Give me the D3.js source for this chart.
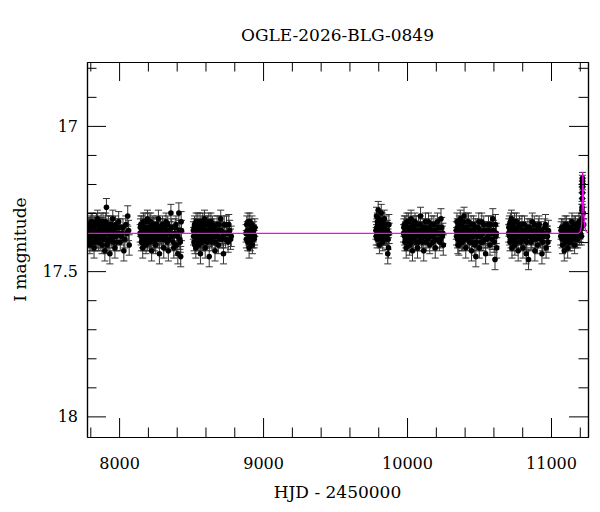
<!DOCTYPE html>
<html>
<head>
<meta charset="utf-8">
<script src="https://cdn.jsdelivr.net/npm/d3@7"></script>
<style>
  body { margin: 0; background: #fff; }
  svg { display: block; }
  text { font-family: "DejaVu Serif", serif; fill: #000; }
</style>
</head>
<body>
<div id="chart"></div>
<script>
// photometry, one array per observing season: [HJD-2450000, I mag, error]
const season1 = [[7782,17.36,.03],[7788,17.39,.03],[7791,17.34,.025],[7797,17.41,.03],[7802,17.37,.03],[7806,17.33,.03],[7811,17.38,.025],[7815,17.40,.03],[7821,17.35,.03],[7826,17.42,.035],[7830,17.37,.03],[7836,17.34,.025],[7841,17.39,.03],[7845,17.36,.03],[7851,17.32,.03],[7856,17.40,.03],[7860,17.38,.025],[7866,17.35,.03],[7871,17.37,.03],[7875,17.33,.03],[7881,17.41,.03],[7886,17.34,.025],[7890,17.39,.03],[7896,17.36,.03],[7901,17.43,.035],[7907,17.33,.03],[7912,17.28,.03],[7918,17.35,.025],[7924,17.40,.03],[7930,17.37,.03],[7936,17.44,.035],[7942,17.34,.03],[7949,17.39,.03],[7956,17.32,.03],[7963,17.36,.025],[7971,17.42,.035],[7979,17.38,.03],[7988,17.35,.03],[7997,17.33,.035],[8008,17.40,.03],[8020,17.37,.03],[8033,17.43,.035],[8047,17.34,.03],[8060,17.31,.035],[8070,17.41,.035],
  [7784,17.38,.03],[7786,17.35,.03],[7794,17.37,.03],[7799,17.34,.03],[7804,17.40,.03],[7809,17.36,.03],[7813,17.33,.03],[7818,17.38,.03],[7824,17.36,.03],[7828,17.34,.03],[7833,17.40,.03],[7838,17.37,.03],[7843,17.33,.03],[7848,17.39,.03],[7853,17.36,.03],[7858,17.34,.03],[7863,17.38,.03],[7868,17.40,.03],[7873,17.36,.03],[7878,17.38,.03],[7883,17.36,.03],[7888,17.33,.03],[7893,17.38,.03],[7898,17.35,.03],[7904,17.39,.03],[7910,17.36,.03],[7915,17.41,.03],[7921,17.37,.03],[7927,17.34,.03],[7933,17.39,.03],[7939,17.36,.03],[7946,17.38,.03],[7953,17.35,.03],[7960,17.40,.03],[7967,17.37,.03],[7975,17.34,.03],[7983,17.40,.03],[7993,17.37,.03],[8003,17.35,.03],[8014,17.38,.03],[8027,17.35,.03],[8040,17.39,.03],[8054,17.37,.03],[8066,17.36,.035]];
const season2 = [[8146,17.37,.03],[8151,17.34,.03],[8155,17.40,.03],[8160,17.36,.025],[8164,17.42,.035],[8169,17.33,.03],[8173,17.38,.03],[8178,17.35,.03],[8183,17.39,.025],[8187,17.41,.03],[8192,17.36,.03],[8197,17.32,.03],[8201,17.38,.03],[8206,17.35,.025],[8211,17.40,.03],[8215,17.37,.03],[8220,17.33,.03],[8226,17.43,.035],[8231,17.36,.03],[8236,17.39,.03],[8242,17.34,.025],[8248,17.38,.03],[8254,17.41,.03],[8260,17.35,.03],[8266,17.37,.03],[8273,17.32,.03],[8280,17.44,.035],[8287,17.36,.03],[8294,17.39,.03],[8302,17.34,.03],[8310,17.42,.035],[8318,17.37,.03],[8326,17.33,.03],[8334,17.40,.03],[8342,17.43,.035],[8350,17.36,.03],[8360,17.30,.03],[8370,17.38,.03],[8380,17.42,.035],[8390,17.35,.03],[8400,17.41,.035],[8408,17.44,.035],[8415,17.30,.035],[8422,17.39,.035],[8428,17.45,.035],[8433,17.36,.035],
  [8148,17.35,.03],[8153,17.38,.03],[8158,17.34,.03],[8162,17.39,.03],[8166,17.36,.03],[8171,17.40,.03],[8176,17.37,.03],[8180,17.33,.03],[8185,17.36,.03],[8190,17.38,.03],[8194,17.35,.03],[8199,17.40,.03],[8204,17.37,.03],[8208,17.33,.03],[8213,17.36,.03],[8218,17.39,.03],[8223,17.35,.03],[8228,17.38,.03],[8234,17.34,.03],[8239,17.37,.03],[8245,17.40,.03],[8251,17.36,.03],[8257,17.38,.03],[8263,17.34,.03],[8269,17.39,.03],[8276,17.36,.03],[8283,17.38,.03],[8290,17.35,.03],[8298,17.37,.03],[8306,17.39,.03],[8314,17.35,.03],[8322,17.38,.03],[8330,17.36,.03],[8338,17.34,.03],[8346,17.39,.03],[8355,17.37,.03],[8365,17.35,.03],[8375,17.40,.03],[8385,17.37,.03],[8395,17.34,.03],[8404,17.38,.03],[8418,17.36,.035],[8425,17.40,.035],[8431,17.33,.035]];
const season3 = [[8516,17.36,.03],[8520,17.40,.03],[8524,17.34,.03],[8529,17.38,.025],[8533,17.42,.035],[8538,17.35,.03],[8542,17.37,.03],[8547,17.33,.03],[8551,17.39,.03],[8556,17.41,.03],[8560,17.36,.025],[8565,17.44,.035],[8569,17.34,.03],[8574,17.38,.03],[8578,17.40,.03],[8583,17.35,.03],[8588,17.37,.025],[8593,17.32,.03],[8598,17.42,.035],[8603,17.36,.03],[8608,17.39,.03],[8614,17.34,.03],[8620,17.38,.03],[8626,17.45,.035],[8632,17.36,.03],[8638,17.33,.03],[8645,17.40,.03],[8652,17.37,.03],[8659,17.35,.03],[8666,17.43,.035],[8673,17.38,.03],[8681,17.34,.03],[8689,17.41,.03],[8697,17.36,.03],[8706,17.32,.03],[8715,17.39,.03],[8725,17.44,.035],[8735,17.37,.03],[8746,17.34,.03],[8757,17.40,.035],[8768,17.36,.035],[8779,17.38,.035],
  [8518,17.38,.03],[8522,17.35,.03],[8526,17.41,.03],[8531,17.36,.03],[8535,17.33,.03],[8540,17.39,.03],[8545,17.36,.03],[8549,17.40,.03],[8553,17.35,.03],[8558,17.38,.03],[8562,17.33,.03],[8567,17.37,.03],[8571,17.40,.03],[8576,17.36,.03],[8581,17.33,.03],[8586,17.39,.03],[8590,17.36,.03],[8595,17.38,.03],[8600,17.34,.03],[8605,17.37,.03],[8611,17.40,.03],[8617,17.36,.03],[8623,17.33,.03],[8629,17.38,.03],[8635,17.35,.03],[8642,17.39,.03],[8648,17.34,.03],[8655,17.38,.03],[8662,17.36,.03],[8669,17.40,.03],[8677,17.36,.03],[8685,17.38,.03],[8693,17.34,.03],[8701,17.39,.03],[8710,17.36,.03],[8720,17.38,.03],[8730,17.34,.03],[8740,17.39,.03],[8751,17.37,.03],[8762,17.34,.035],[8774,17.39,.035]];
const season4 = [[8882,17.37,.03],[8887,17.34,.03],[8893,17.40,.03],[8898,17.36,.03],[8903,17.42,.035],[8908,17.33,.03],[8914,17.38,.03],[8920,17.35,.03],[8926,17.41,.03],[8932,17.37,.03],[8938,17.39,.03],[8943,17.35,.03],
  [8884,17.39,.03],[8890,17.36,.03],[8895,17.33,.03],[8901,17.38,.03],[8906,17.36,.03],[8911,17.40,.03],[8917,17.37,.03],[8923,17.34,.03],[8929,17.39,.03],[8935,17.36,.03],[8941,17.38,.03]];
const season5 = [[9784,17.36,.03],[9788,17.31,.03],[9792,17.39,.03],[9796,17.34,.03],[9800,17.29,.03],[9804,17.37,.03],[9808,17.41,.03],[9812,17.33,.03],[9817,17.38,.03],[9821,17.30,.03],[9826,17.35,.03],[9831,17.40,.03],[9836,17.36,.03],[9842,17.32,.03],[9848,17.38,.03],[9854,17.34,.03],[9860,17.39,.035],[9866,17.44,.035],[9871,17.42,.035],[9876,17.37,.035],
  [9786,17.38,.03],[9790,17.35,.03],[9794,17.33,.03],[9798,17.38,.03],[9802,17.35,.03],[9806,17.32,.03],[9810,17.36,.03],[9815,17.34,.03],[9819,17.39,.03],[9824,17.37,.03],[9829,17.33,.03],[9834,17.38,.03],[9839,17.35,.03],[9845,17.37,.03],[9851,17.36,.03],[9857,17.38,.03],[9863,17.36,.035],[9868,17.39,.035],[9874,17.34,.035]];
const season6 = [[9976,17.37,.03],[9981,17.34,.03],[9985,17.40,.03],[9990,17.36,.03],[9994,17.42,.035],[9999,17.33,.03],[10004,17.38,.03],[10008,17.35,.03],[10013,17.39,.03],[10018,17.41,.035],[10023,17.36,.03],[10028,17.32,.03],[10033,17.38,.03],[10038,17.43,.035],[10043,17.35,.03],[10049,17.37,.03],[10055,17.33,.03],[10061,17.40,.03],[10067,17.36,.03],[10073,17.42,.035],[10080,17.34,.03],[10087,17.38,.03],[10094,17.31,.03],[10101,17.39,.03],[10108,17.36,.03],[10116,17.43,.035],[10124,17.35,.03],[10132,17.40,.03],[10140,17.37,.03],[10149,17.33,.03],[10158,17.41,.03],[10167,17.36,.03],[10176,17.38,.03],[10186,17.34,.03],[10196,17.42,.035],[10206,17.37,.03],[10216,17.35,.03],[10226,17.40,.03],[10236,17.32,.035],[10245,17.38,.035],[10252,17.41,.035],
  [9978,17.35,.03],[9983,17.38,.03],[9988,17.34,.03],[9992,17.39,.03],[9997,17.36,.03],[10001,17.40,.03],[10006,17.37,.03],[10011,17.33,.03],[10015,17.36,.03],[10020,17.38,.03],[10025,17.35,.03],[10031,17.40,.03],[10036,17.37,.03],[10041,17.34,.03],[10046,17.39,.03],[10052,17.36,.03],[10058,17.38,.03],[10064,17.34,.03],[10070,17.37,.03],[10077,17.40,.03],[10084,17.36,.03],[10091,17.34,.03],[10098,17.37,.03],[10105,17.40,.03],[10112,17.35,.03],[10120,17.38,.03],[10128,17.33,.03],[10136,17.36,.03],[10145,17.39,.03],[10154,17.35,.03],[10163,17.38,.03],[10172,17.34,.03],[10181,17.40,.03],[10191,17.36,.03],[10201,17.39,.03],[10211,17.33,.03],[10221,17.37,.03],[10231,17.39,.03],[10241,17.35,.035],[10249,17.37,.035]];
const season7 = [[10342,17.36,.03],[10347,17.33,.03],[10351,17.39,.03],[10356,17.35,.03],[10360,17.41,.035],[10365,17.37,.03],[10370,17.32,.03],[10375,17.38,.03],[10380,17.34,.03],[10385,17.40,.03],[10390,17.36,.03],[10396,17.31,.03],[10402,17.38,.03],[10408,17.42,.035],[10414,17.35,.03],[10420,17.37,.03],[10427,17.33,.03],[10434,17.40,.03],[10441,17.36,.03],[10448,17.43,.035],[10455,17.38,.03],[10462,17.34,.03],[10470,17.41,.035],[10478,17.45,.035],[10486,17.37,.03],[10494,17.35,.03],[10502,17.42,.035],[10510,17.38,.03],[10519,17.33,.03],[10528,17.40,.03],[10537,17.36,.03],[10546,17.44,.035],[10556,17.39,.03],[10566,17.34,.03],[10576,17.41,.035],[10586,17.37,.03],[10596,17.32,.035],[10605,17.40,.035],[10611,17.46,.035],[10617,17.38,.035],[10623,17.42,.035],
  [10344,17.38,.03],[10349,17.35,.03],[10353,17.41,.03],[10358,17.37,.03],[10363,17.34,.03],[10367,17.39,.03],[10372,17.36,.03],[10377,17.40,.03],[10382,17.37,.03],[10388,17.33,.03],[10393,17.38,.03],[10399,17.35,.03],[10405,17.39,.03],[10411,17.37,.03],[10417,17.33,.03],[10424,17.39,.03],[10431,17.36,.03],[10438,17.38,.03],[10445,17.34,.03],[10452,17.40,.03],[10459,17.36,.03],[10466,17.38,.03],[10474,17.35,.03],[10482,17.40,.03],[10490,17.38,.03],[10498,17.33,.03],[10506,17.36,.03],[10515,17.40,.03],[10524,17.37,.03],[10533,17.34,.03],[10542,17.39,.03],[10551,17.36,.03],[10561,17.38,.03],[10571,17.36,.03],[10581,17.34,.03],[10591,17.39,.035],[10601,17.36,.035],[10614,17.34,.035],[10620,17.37,.035]];
const season8 = [[10706,17.37,.03],[10711,17.34,.03],[10715,17.40,.03],[10720,17.36,.03],[10725,17.32,.03],[10729,17.42,.035],[10734,17.38,.03],[10739,17.35,.03],[10744,17.39,.03],[10749,17.41,.035],[10754,17.36,.03],[10760,17.33,.03],[10766,17.38,.03],[10772,17.43,.035],[10778,17.35,.03],[10784,17.37,.03],[10791,17.40,.03],[10798,17.34,.03],[10805,17.42,.035],[10812,17.36,.03],[10820,17.39,.03],[10828,17.44,.035],[10836,17.37,.03],[10844,17.46,.035],[10852,17.35,.03],[10861,17.40,.03],[10870,17.33,.03],[10879,17.38,.03],[10888,17.43,.035],[10897,17.36,.03],[10907,17.41,.03],[10917,17.34,.03],[10927,17.39,.03],[10937,17.44,.035],[10947,17.37,.03],[10957,17.35,.03],[10966,17.42,.035],[10975,17.38,.035],[10982,17.36,.035],
  [10708,17.35,.03],[10713,17.38,.03],[10718,17.33,.03],[10722,17.39,.03],[10727,17.36,.03],[10732,17.34,.03],[10737,17.40,.03],[10742,17.37,.03],[10747,17.33,.03],[10752,17.39,.03],[10757,17.37,.03],[10763,17.40,.03],[10769,17.35,.03],[10775,17.38,.03],[10781,17.34,.03],[10788,17.37,.03],[10795,17.39,.03],[10802,17.36,.03],[10809,17.38,.03],[10816,17.34,.03],[10824,17.37,.03],[10832,17.40,.03],[10840,17.35,.03],[10848,17.38,.03],[10857,17.36,.03],[10866,17.39,.03],[10875,17.36,.03],[10884,17.34,.03],[10893,17.39,.03],[10902,17.37,.03],[10912,17.35,.03],[10922,17.38,.03],[10932,17.36,.03],[10942,17.40,.03],[10952,17.38,.03],[10962,17.34,.035],[10971,17.38,.035],[10979,17.40,.035]];
const season9 = [[11068,17.38,.03],[11074,17.35,.03],[11080,17.41,.03],[11086,17.37,.03],[11092,17.43,.035],[11098,17.34,.03],[11104,17.39,.03],[11110,17.36,.03],[11116,17.42,.035],[11122,17.38,.03],[11128,17.35,.03],[11134,17.40,.03],[11140,17.37,.03],[11146,17.33,.03],[11152,17.39,.03],[11158,17.36,.03],[11164,17.41,.03],[11170,17.34,.03],[11176,17.38,.03],[11182,17.35,.03],[11188,17.37,.03],[11194,17.33,.03],[11200,17.36,.03],[11206,17.34,.03],[11211,17.38,.03],
  [11070,17.36,.03],[11077,17.39,.03],[11083,17.35,.03],[11089,17.38,.03],[11095,17.36,.03],[11101,17.40,.03],[11107,17.34,.03],[11113,17.38,.03],[11119,17.36,.03],[11125,17.40,.03],[11131,17.37,.03],[11137,17.35,.03],[11143,17.39,.03],[11149,17.36,.03],[11155,17.38,.03],[11161,17.34,.03],[11167,17.37,.03],[11173,17.39,.03],[11179,17.36,.03],[11185,17.39,.03],[11191,17.36,.03],[11197,17.38,.03],[11203,17.37,.03],[11209,17.35,.03]];
const peakPoints = [[11214,17.32,.02],[11215,17.29,.02],[11216,17.28,.02],[11216.5,17.25,.02],[11217,17.23,.02],[11217.5,17.21,.02],[11218,17.19,.02],[11218.5,17.18,.02],[11220,17.2,.02],[11224,17.3,.02],[11227,17.34,.02]];

// model light curve
const modelT   = [7777, 11190, 11200, 11206, 11210, 11213, 11216, 11218, 11220, 11221, 11222, 11224, 11226, 11229, 11233, 11238, 11245, 11257];
const modelMag = [17.37, 17.37, 17.366, 17.36, 17.35, 17.335, 17.3, 17.26, 17.2, 17.16, 17.17, 17.22, 17.27, 17.31, 17.34, 17.355, 17.364, 17.368];

const xMajor = [8000, 9000, 10000, 11000];
const yMajor = [17, 17.5, 18];

const title = "OGLE-2026-BLG-0849";
const xLabel = "HJD - 2450000";
const yLabel = "I magnitude";

const W = 600, H = 512;
const margin = {top: 62, right: 12, bottom: 75, left: 87};
const width = W - margin.left - margin.right;
const height = H - margin.top - margin.bottom;

const svg = d3.select("#chart").append("svg")
    .attr("width", W)
    .attr("height", H);

const g = svg.append("g")
    .attr("transform", `translate(${margin.left},${margin.top})`);

const x = d3.scaleLinear().domain([7777, 11257]).range([0, width]);
const y = d3.scaleLinear().domain([16.78, 18.071]).range([0, height]);

const allPoints = [].concat(season1, season2, season3, season4, season5,
                            season6, season7, season8, season9, peakPoints);

// clip to the frame
g.append("clipPath").attr("id", "frame")
  .append("rect").attr("width", width).attr("height", height);

const plot = g.append("g").attr("clip-path", "url(#frame)");

// error bars
const eb = plot.append("g")
    .attr("stroke", "#333")
    .attr("stroke-width", 1)
    .attr("fill", "none");

eb.selectAll("path")
  .data(allPoints)
  .enter()
  .append("path")
  .attr("d", d => {
      const cx = x(d[0]), y0 = y(d[1] - d[2]), y1 = y(d[1] + d[2]);
      return `M${cx},${y0}V${y1}M${cx-3.5},${y0}H${cx+3.5}M${cx-3.5},${y1}H${cx+3.5}`;
  });

// points
plot.append("g").selectAll("circle")
  .data(allPoints)
  .enter()
  .append("circle")
  .attr("cx", d => x(d[0]))
  .attr("cy", d => y(d[1]))
  .attr("r", 2.8)
  .attr("fill", "#000");

// model
const line = d3.line()
    .x((d, i) => x(modelT[i]))
    .y(d => y(d));

plot.append("path")
  .datum(modelMag)
  .attr("d", line)
  .attr("fill", "none")
  .attr("stroke", "#ff00ff")
  .attr("stroke-width", 1.2);

// axes, ticks inward on all four sides
const xMinor = d3.range(7800, 11257, 200).filter(v => !xMajor.includes(v));
const yMinor = d3.range(16.8, 18.07, 0.1).map(v => +v.toFixed(1)).filter(v => !yMajor.includes(v));

function addAxis(axisFn, scale, ticks, size, labels, transform) {
    const a = axisFn(scale).tickValues(ticks).tickSizeInner(-size).tickSizeOuter(0);
    if (!labels) a.tickFormat("");
    else a.tickFormat(d3.format("")).tickPadding(labels);
    const sel = g.append("g").attr("transform", transform).call(a);
    sel.select(".domain").attr("stroke", "#000").attr("stroke-width", 1.2);
    sel.selectAll(".tick line").attr("stroke", "#000").attr("stroke-width", 1);
    sel.selectAll("text").attr("font-family", "DejaVu Serif").attr("font-size", 16).attr("fill", "#000");
    return sel;
}

addAxis(d3.axisBottom, x, xMajor, 19, 21, `translate(0,${height})`);
addAxis(d3.axisBottom, x, xMinor, 9.5, 0, `translate(0,${height})`);
addAxis(d3.axisTop, x, xMajor, 19, 0, "translate(0,0)");
addAxis(d3.axisTop, x, xMinor, 9.5, 0, "translate(0,0)");
addAxis(d3.axisLeft, y, yMajor, 19, 9, "translate(0,0)");
addAxis(d3.axisLeft, y, yMinor, 9.5, 0, "translate(0,0)");
addAxis(d3.axisRight, y, yMajor, 19, 0, `translate(${width},0)`);
addAxis(d3.axisRight, y, yMinor, 9.5, 0, `translate(${width},0)`);

// titles
svg.append("text")
  .attr("x", margin.left + width / 2)
  .attr("y", 41)
  .attr("text-anchor", "middle")
  .attr("font-size", 17)
  .text(title);

svg.append("text")
  .attr("x", margin.left + width / 2)
  .attr("y", 498)
  .attr("text-anchor", "middle")
  .attr("font-size", 17)
  .text(xLabel);

svg.append("text")
  .attr("transform", `translate(26,${margin.top + height / 2}) rotate(-90)`)
  .attr("text-anchor", "middle")
  .attr("font-size", 17)
  .text(yLabel);
</script>
</body>
</html>
